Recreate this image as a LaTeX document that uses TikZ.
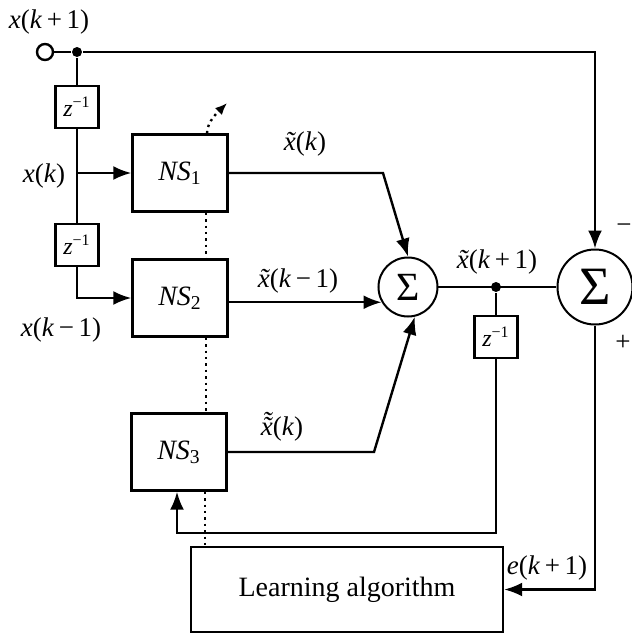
\documentclass[tikz,border=0pt]{standalone}
\usepackage{fontspec}
\setmainfont{Liberation Serif}
\usetikzlibrary{arrows.meta}

\newcommand{\zinv}{\textit{z}\textsuperscript{−1}}
\newcommand{\tld}{\char"02DC}
\newcommand{\xt}{\textit{\ooalign{x\cr\hidewidth\tld\hidewidth\cr}}}
\newcommand{\xtt}{\textit{\ooalign{x\cr\hidewidth\tld\hidewidth\cr\hidewidth\raisebox{.2em}{\tld}\hidewidth\cr}}}

\begin{document}
\begin{tikzpicture}
[x=0.5pt,y=-0.5pt,line width=1.2pt,>={Latex[length=9pt,width=7pt]},
 every node/.style={font=\fontsize{13.5}{16}\selectfont},
 block/.style={draw,fill=white,minimum width=47.5pt,minimum height=38.5pt,inner sep=0pt,font=\fontsize{14}{16}\selectfont},
 delay/.style={draw,fill=white,minimum width=21.5pt,minimum height=21pt,inner sep=0pt,font=\fontsize{12}{14}\selectfont},
 sum/.style={circle,draw,line width=1pt,minimum size=29.5pt,inner sep=0pt,font=\fontsize{20}{20}\selectfont},
 dot/.style={circle,fill,inner sep=0pt,minimum size=5pt}]
\useasboundingbox (0,0) rectangle (632,634);
% input and delay line
\node[circle,draw,minimum size=8pt,inner sep=0pt] (in) at (45,52) {};
\node[dot] (d1) at (77,52) {};
\node[delay] (z1) at (77,107) {\zinv};
\node[delay] (z2) at (77,245) {\zinv};
% networks
\node[block] (NS1) at (180,173) {\textit{NS}\textsubscript{1}};
\node[block] (NS2) at (180,298) {\textit{NS}\textsubscript{2}};
\node[block] (NS3) at (179,452) {\textit{NS}\textsubscript{3}};
\node[block,minimum width=156pt,minimum height=42.5pt] (LA) at (347,589.5) {Learning algorithm};
% summation and error
\node[sum] (sum1) at (408,287) {Σ};
\node[sum,minimum size=37.5pt,font=\fontsize{27}{27}\selectfont] (sum2) at (595,287) {Σ};
\node[dot] (d2) at (496,287) {};
\node[delay] (z3) at (496,337) {\zinv};
\coordinate (b1) at (383,173);
\coordinate (b3) at (374,452);
\coordinate (fb) at (496,533);
\coordinate (adapt) at (227,103);
% labels
\node at (49,22) {\textit{x}(\textit{k}\,+\,1)};
\node at (44,176) {\textit{x}(\textit{k})};
\node at (61,330) {\textit{x}(\textit{k}\,−\,1)};
\node at (305,144) {\xt(\textit{k})};
\node at (298,281) {\xt(\textit{k}\,−\,1)};
\node at (282,429) {\xtt(\textit{k})};
\node at (497,262) {\xt(\textit{k}\,+\,1)};
\node at (547,568) {\textit{e}(\textit{k}\,+\,1)};
\node at (624,229) {−};
\node at (623,343) {+};
% connections
\draw (in) -- (d1);
\draw[->] (d1) -- (d1 -| sum2) -- (sum2);
\draw (d1) -- (z1) -- (z2);
\draw[->] (z1 |- NS1) -- (NS1);
\draw[->] (z2) |- (NS2);
\draw[->] (NS1) -- (b1) -- (sum1.north);
\draw[->] (NS2.east |- sum1.210) -- (sum1.210);
\draw[->] (NS3) -- (b3) -- (sum1.-77);
\draw (sum1) -- (sum2);
\draw (d2) -- (z3);
\draw[->] (z3) -- (fb) -| ([xshift=-1pt]NS3.south);
\draw[->] (sum2) -- (sum2 |- LA) -- (LA);
\foreach \a/\b in {NS1/NS2,NS2/NS3,NS3/LA}
  \draw[dotted,line width=1.2pt] ([xshift=13pt]\a.south) -- ([xshift=13pt]\a.south |- \b.north);
\draw[dotted,line width=1.2pt,-{Latex[length=6pt,width=5pt]}] ([xshift=13.5pt]NS1.north) .. controls +(0,-12) and +(-8,8) .. (adapt);
\end{tikzpicture}
\end{document}
